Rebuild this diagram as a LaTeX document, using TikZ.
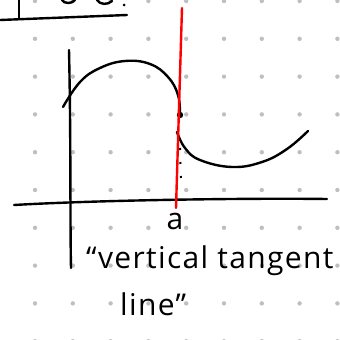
\documentclass[tikz,border=0pt]{standalone}
\usepackage{fontspec}
\setmainfont{Open Sans}
\usetikzlibrary{positioning}

\tikzset{
  griddot/.style={fill=black!25},
  pen/.style={line width=2.4pt, line cap=round, line join=round},
  tangentpen/.style={line width=2.4pt, red, line cap=round},
  handtext/.style={inner sep=0pt, font=\fontsize{30}{36}\selectfont\addfontfeatures{LetterSpace=4.5}}
}

\begin{document}
\begin{tikzpicture}[x=1pt, y=-1pt]
\useasboundingbox (0,0) rectangle (340,340);

% dot grid
\foreach \i in {0,...,8}
  \foreach \j in {0,...,9}
    \fill[griddot] (35+37.8*\i, 1+37.8*\j) circle (2.2pt);

% box from the previous part
\draw[pen] (0,20) -- (127,15);
\draw[pen] (19,0) -- (19,19);
\draw[pen] (62,0) .. controls (64,4) and (72,4) .. (75,0);
\draw[pen] (97,0) .. controls (100,5) and (108,5) .. (112,1);
\fill (124,5) circle (1.5pt);

% axes
\coordinate (yaxtop) at (69,50);
\coordinate (yaxbot) at (71,268);
\coordinate (xaxl) at (14,205);
\coordinate (xaxr) at (327,199);
\draw[pen] (yaxtop) .. controls (71,140) and (70,220) .. (yaxbot);
\draw[pen] (xaxl) .. controls (100,200) and (250,198) .. (xaxr);

% the graph, broken at x = a
\coordinate (pt) at (180,115);
\draw[pen] plot[smooth, tension=0.7] coordinates
  {(63,107) (80,82) (100,68) (125,61) (150,64) (168,77) (178,95) (pt)};
\draw[pen] plot[smooth, tension=0.7] coordinates
  {(177,132) (185,148) (200,160) (232,167) (262,162) (287,149) (308,131)};
\fill (pt) circle (3.2pt);
\draw[line width=2pt, dash pattern=on 2pt off 12pt] (180,148) -- (181,180);

% vertical tangent
\coordinate (tantop) at (182,8);
\coordinate (tanbot) at (176,208);
\draw[tangentpen] (tantop) -- (tanbot);

% labels
\node[inner sep=0pt, font=\fontsize{30}{34}\selectfont, anchor=base] (alab) at (175,229) {a};
\node[handtext, anchor=base west] (vtl) at (86,268) {``vertical tangent};
\node[handtext, anchor=base west] (vtl2) at (120,315) {line''};
\end{tikzpicture}
\end{document}
